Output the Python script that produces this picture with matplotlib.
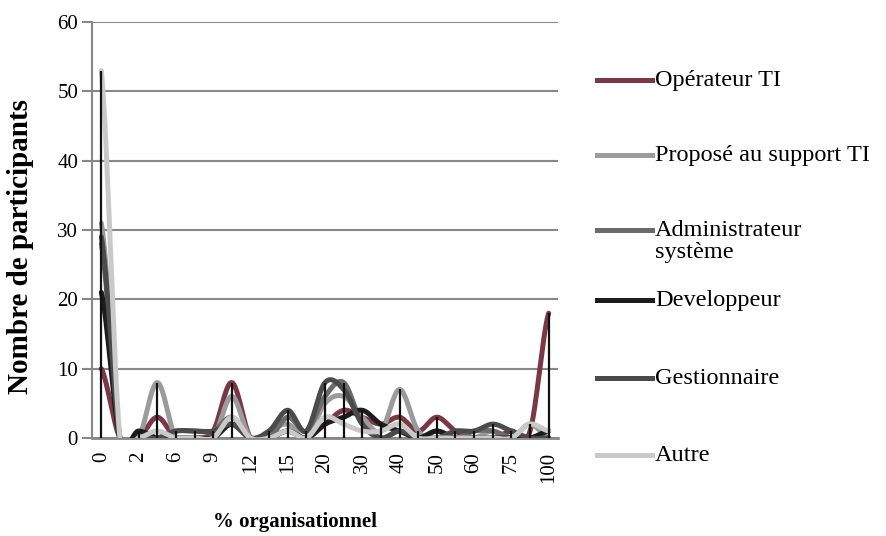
import numpy as np
import matplotlib
matplotlib.use('Agg')
import matplotlib.pyplot as plt
from matplotlib.lines import Line2D

plt.rcParams['font.family'] = ['Liberation Serif', 'DejaVu Serif']

# Catégories (% organisationnel) ; une étiquette sur deux est affichée
categories = [0, 1, 2, 5, 6, 8, 9, 10, 12, 13, 15, 18, 20, 25, 30, 35,
              40, 45, 50, 55, 60, 70, 75, 80, 100]

operateur     = [10, 0, 0, 3, 0, 0, 1, 8, 0, 0, 1, 0, 2, 4, 3, 2, 3, 1, 3, 1, 0, 0, 1, 1, 18]
propose       = [31, 0, 0, 8, 0, 0, 0, 6, 0, 1, 2, 0, 5, 6, 3, 1, 7, 1, 0, 0, 0, 1, 0, 2, 0]
administrateur = [28, 0, 0, 0, 1, 1, 1, 3, 0, 0, 3, 1, 6, 8, 2, 0, 1, 0, 1, 0, 1, 1, 0, 0, 0]
developpeur   = [21, 0, 1, 0, 0, 0, 0, 2, 0, 0, 1, 0, 2, 3, 4, 2, 1, 0, 1, 0, 0, 0, 0, 0, 1]
gestionnaire  = [29, 0, 0, 0, 1, 1, 1, 2, 0, 1, 4, 1, 8, 7, 2, 0, 1, 0, 0, 1, 1, 2, 1, 0, 0]
autre         = [53, 0, 0, 1, 0, 0, 0, 3, 0, 0, 1, 0, 3, 2, 1, 1, 2, 0, 0, 0, 0, 0, 0, 2, 1]

series = [
    ("Opérateur TI", operateur, "#7a3845"),
    ("Proposé au support TI", propose, "#9b9b9b"),
    ("Administrateur\nsystème", administrateur, "#6b6b6b"),
    ("Developpeur", developpeur, "#1c1c1c"),
    ("Gestionnaire", gestionnaire, "#4b4b4b"),
    ("Autre", autre, "#c9c9c9"),
]


def lisser(valeurs, pas=24):
    """Courbe lissée (Catmull-Rom) passant par chaque point."""
    y = np.asarray(valeurs, dtype=float)
    p = np.concatenate([[y[0]], y, [y[-1]]])
    xs, ys = [], []
    t = np.linspace(0, 1, pas, endpoint=False)
    for i in range(len(y) - 1):
        p0, p1, p2, p3 = p[i], p[i + 1], p[i + 2], p[i + 3]
        seg = 0.5 * (2 * p1 + (-p0 + p2) * t
                     + (2 * p0 - 5 * p1 + 4 * p2 - p3) * t ** 2
                     + (-p0 + 3 * p1 - 3 * p2 + p3) * t ** 3)
        xs.append(i + t)
        ys.append(seg)
    xs.append([len(y) - 1])
    ys.append([y[-1]])
    return np.concatenate(xs), np.concatenate(ys)


fig = plt.figure(figsize=(8.87, 5.36), dpi=100)
fig.patch.set_facecolor("white")
ax = fig.add_axes([92 / 887, 1 - 438 / 536, (558 - 92) / 887, (438 - 22) / 536])

idx = np.arange(len(categories))
for nom, vals, couleur in series:
    xs, ys = lisser(vals)
    ax.plot(xs, ys, color=couleur, lw=3.6, solid_capstyle="round", zorder=3)

# lignes de projection depuis le point le plus haut de chaque catégorie
maxima = np.max([s[1] for s in series], axis=0)
ax.vlines(idx, 0, maxima, color="#111111", lw=1.6, zorder=5)

ax.set_xlim(-0.5, len(categories) - 0.5)
ax.set_ylim(0, 60)
ax.set_yticks(range(0, 61, 10))
ax.set_xticks(idx[::2])
ax.set_xticklabels([str(c) for c in categories[::2]], rotation=90, fontsize=15)
ax.tick_params(axis="y", labelsize=15, length=7, width=1.5, color="#888888", pad=3)
ax.tick_params(axis="x", length=0, pad=10)

ax.yaxis.grid(True, color="#888888", lw=1.5)
ax.set_axisbelow(True)
for s in ["top", "right"]:
    ax.spines[s].set_visible(False)
ax.spines["left"].set_color("#888888")
ax.spines["left"].set_linewidth(1.5)
ax.spines["bottom"].set_color("#888888")
ax.spines["bottom"].set_linewidth(2)

ax.set_ylabel("Nombre de participants", fontsize=21, fontweight="bold")
ax.yaxis.set_label_coords(-(92 - 21) / 466, (438 - 246) / 416)
ax.set_xlabel("% organisationnel", fontsize=15, fontweight="bold")
ax.xaxis.set_label_coords((295 - 92) / 466, -(522 - 438) / 416)
ax.xaxis.label.set_va("center")
ax.yaxis.label.set_va("center")

# légende dessinée à droite
positions = [80, 155, 230, 300, 378, 455]
for (nom, vals, couleur), ypx in zip(series, positions):
    yf = 1 - ypx / 536
    fig.add_artist(Line2D([597 / 887, 652 / 887], [yf, yf], color=couleur,
                          lw=3.6, transform=fig.transFigure))
    fig.text(655 / 887, yf + 10 / 536, nom, fontsize=17.5, va="top",
             ha="left", linespacing=1.05)

fig.savefig("out.png", dpi=100)
